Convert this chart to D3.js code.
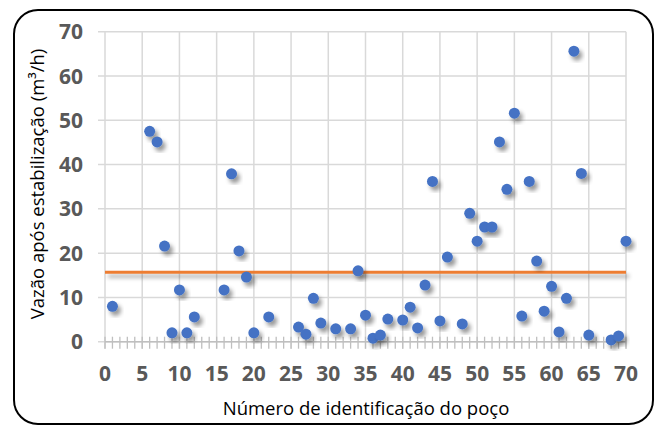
<!DOCTYPE html>
<html><head><meta charset="utf-8">
<script src="https://cdn.jsdelivr.net/npm/d3@7/dist/d3.min.js"></script>
<style>body{margin:0;background:#fff}svg{display:block}</style>
</head><body>
<svg id="c" width="659" height="426"></svg>
<script>
const wellIds = [1,6,7,8,9,10,11,12,16,17,18,19,20,22,26,27,28,29,31,33,34,35,36,37,38,40,41,42,43,44,45,46,48,49,50,51,52,53,54,55,56,57,58,59,60,61,62,63,64,65,68,69,70];
const flowRates = [8,47.5,45.1,21.6,2,11.7,2,5.6,11.7,37.9,20.5,14.6,2,5.6,3.3,1.7,9.8,4.2,2.9,2.9,16,6,0.8,1.5,5.1,4.9,7.8,3.1,12.8,36.2,4.7,19.1,4,29,22.7,25.9,25.9,45.1,34.4,51.6,5.8,36.2,18.2,6.9,12.5,2.2,9.8,65.6,38,1.5,0.4,1.3,22.7];
const referenceLevel = 15.7;
const xTicks = [0,5,10,15,20,25,30,35,40,45,50,55,60,65,70];
const yTicks = [0,10,20,30,40,50,60,70];
const xTitle = "Número de identificação do poço";
const yTitle = "Vazão após estabilização (m³/h)";

const svg = d3.select("#c");
const x = d3.scaleLinear().domain([0,70]).range([105,626]);
const y = d3.scaleLinear().domain([0,70]).range([341.7,31.7]);

const defs = svg.append("defs");
const f = defs.append("filter").attr("id","sh").attr("x","-50%").attr("y","-50%").attr("width","200%").attr("height","200%");
f.append("feDropShadow").attr("dx",3).attr("dy",4).attr("stdDeviation",2).attr("flood-color","#000").attr("flood-opacity",0.4);
const f2 = defs.append("filter").attr("id","sh2").attr("filterUnits","userSpaceOnUse")
  .attr("x",0).attr("y",0).attr("width",659).attr("height",426);
f2.append("feDropShadow").attr("dx",3).attr("dy",4).attr("stdDeviation",2).attr("flood-color","#000").attr("flood-opacity",0.35);

svg.append("rect").attr("x",14).attr("y",10).attr("width",639).attr("height",414)
  .attr("rx",24).attr("fill","#fff").attr("stroke","#000").attr("stroke-width",2);

const font = "'Open Sans', sans-serif";
// gridlines
const g = svg.append("g");
g.selectAll(".vg").data(xTicks).join("line")
  .attr("x1",d=>x(d)).attr("x2",d=>x(d)).attr("y1",y(70)).attr("y2",y(0)+7)
  .attr("stroke","#d9d9d9").attr("stroke-width",1.5);
g.selectAll(".hg").data(yTicks).join("line")
  .attr("x1",x(0)-7).attr("x2",x(70)).attr("y1",d=>y(d)).attr("y2",d=>y(d))
  .attr("stroke","#d9d9d9").attr("stroke-width",1.5);
// minor ticks
g.selectAll(".mt").data(d3.range(0,71)).join("line")
  .attr("x1",d=>x(d)).attr("x2",d=>x(d)).attr("y1",y(0)-5).attr("y2",y(0)+7)
  .attr("stroke","#bfbfbf").attr("stroke-width",1.3);
g.append("line").attr("x1",x(0)).attr("x2",x(70)).attr("y1",y(0)).attr("y2",y(0))
  .attr("stroke","#bfbfbf").attr("stroke-width",1.5);

// tick labels
svg.append("g").selectAll("text").data(xTicks).join("text")
  .attr("x",d=>x(d)).attr("y",381).attr("text-anchor","middle")
  .attr("font-family",font).attr("font-weight","bold").attr("font-size",21).attr("fill","#595959").text(d=>d);
svg.append("g").selectAll("text").data(yTicks).join("text")
  .attr("x",83).attr("y",d=>y(d)).attr("dy","0.36em").attr("text-anchor","end")
  .attr("font-family",font).attr("font-weight","bold").attr("font-size",21).attr("fill","#595959").text(d=>d);

// titles
svg.append("text").attr("x",366).attr("y",415).attr("text-anchor","middle")
  .attr("font-family",font).attr("font-size",18.5).attr("fill","#000").text(xTitle);
svg.append("text").attr("transform","translate(44,184) rotate(-90)").attr("text-anchor","middle")
  .attr("font-family",font).attr("font-size",18.5).attr("fill","#000").text(yTitle);

// reference line
svg.append("line").attr("x1",x(0)).attr("x2",x(70)).attr("y1",y(referenceLevel)).attr("y2",y(referenceLevel))
  .attr("stroke","#ED7D31").attr("stroke-width",3).attr("filter","url(#sh2)");

// points
const pts = wellIds.map((id,i)=>({id, v:flowRates[i]}));
svg.append("g").selectAll("circle").data(pts).join("circle")
  .attr("cx",d=>x(d.id)).attr("cy",d=>y(d.v)).attr("r",5.5)
  .attr("fill","#4472C4").attr("filter","url(#sh)");
</script>
</body></html>
